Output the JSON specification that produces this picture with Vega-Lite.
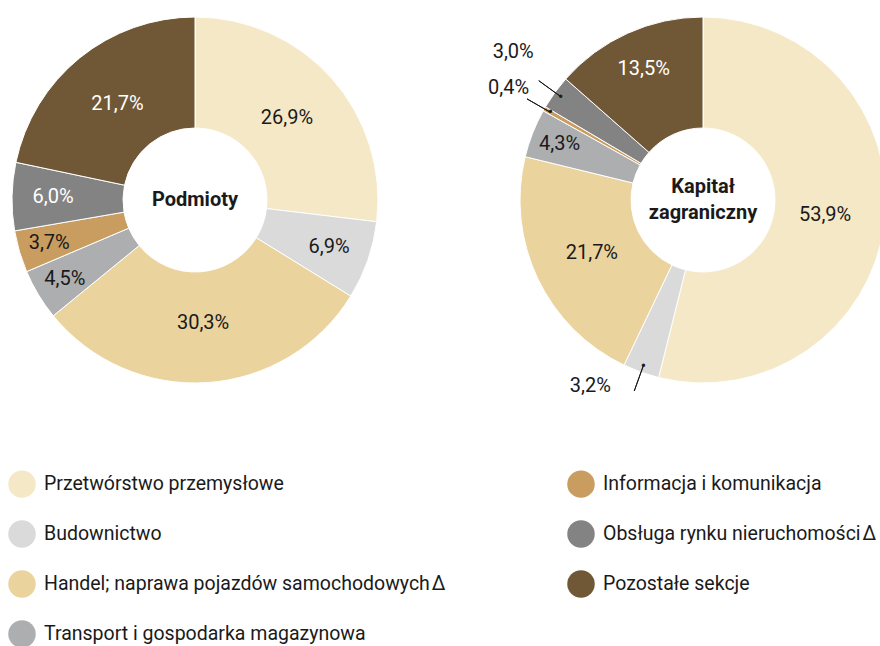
{
  "$schema": "https://vega.github.io/schema/vega-lite/v6.json",
  "width": 880,
  "height": 400,
  "autosize": {"type": "none"},
  "padding": {"left": 0, "top": 0, "right": 0, "bottom": 246},
  "background": "white",
  "config": {"view": {"stroke": null}, "font": "Roboto"},
  "data": {
    "values": [
      {"chart": "Podmioty", "rank": 1, "sector": "Przetwórstwo przemysłowe", "value": 26.9, "label": "26,9%"},
      {"chart": "Podmioty", "rank": 2, "sector": "Budownictwo", "value": 6.9, "label": "6,9%"},
      {"chart": "Podmioty", "rank": 3, "sector": "Handel; naprawa pojazdów samochodowych\u200aΔ", "value": 30.3, "label": "30,3%"},
      {"chart": "Podmioty", "rank": 4, "sector": "Transport i gospodarka magazynowa", "value": 4.5, "label": "4,5%"},
      {"chart": "Podmioty", "rank": 5, "sector": "Informacja i komunikacja", "value": 3.7, "label": "3,7%"},
      {"chart": "Podmioty", "rank": 6, "sector": "Obsługa rynku nieruchomości\u200aΔ", "value": 6.0, "label": "6,0%"},
      {"chart": "Podmioty", "rank": 7, "sector": "Pozostałe sekcje", "value": 21.7, "label": "21,7%"},
      {"chart": "Kapitał zagraniczny", "rank": 1, "sector": "Przetwórstwo przemysłowe", "value": 53.9, "label": "53,9%"},
      {"chart": "Kapitał zagraniczny", "rank": 2, "sector": "Budownictwo", "value": 3.2, "label": "3,2%"},
      {"chart": "Kapitał zagraniczny", "rank": 3, "sector": "Handel; naprawa pojazdów samochodowych\u200aΔ", "value": 21.7, "label": "21,7%"},
      {"chart": "Kapitał zagraniczny", "rank": 4, "sector": "Transport i gospodarka magazynowa", "value": 4.3, "label": "4,3%"},
      {"chart": "Kapitał zagraniczny", "rank": 5, "sector": "Informacja i komunikacja", "value": 0.4, "label": "0,4%"},
      {"chart": "Kapitał zagraniczny", "rank": 6, "sector": "Obsługa rynku nieruchomości\u200aΔ", "value": 3.0, "label": "3,0%"},
      {"chart": "Kapitał zagraniczny", "rank": 7, "sector": "Pozostałe sekcje", "value": 13.5, "label": "13,5%"}
    ]
  },
  "encoding": {
    "x": {"field": "chart", "type": "nominal", "scale": {"type": "point", "domain": ["Podmioty", "Kapitał zagraniczny"], "range": [195, 703], "padding": 0}, "axis": null}
  },
  "layer": [
    {
      "transform": [{"filter": "datum.chart == 'Podmioty'"}],
      "encoding": {
        "theta": {"field": "value", "type": "quantitative", "stack": true},
        "order": {"field": "rank", "type": "quantitative"},
        "detail": {"field": "sector", "type": "nominal"}
      },
      "layer": [
        {
          "mark": {"type": "arc", "outerRadius": 183, "innerRadius": 72, "stroke": "#ffffff", "strokeWidth": 1},
          "encoding": {
            "color": {
              "field": "sector", "type": "nominal",
              "scale": {
                "domain": ["Przetwórstwo przemysłowe", "Budownictwo", "Handel; naprawa pojazdów samochodowych\u200aΔ", "Transport i gospodarka magazynowa", "Informacja i komunikacja", "Obsługa rynku nieruchomości\u200aΔ", "Pozostałe sekcje"],
                "range": ["#F5E8C7", "#D9DAD9", "#EBD39E", "#ADAEAF", "#C99C60", "#838383", "#705836"]
              },
              "legend": {
                "orient": "none", "legendX": 8, "legendY": 470, "columns": 2, "title": null,
                "symbolType": "circle", "symbolSize": 756, "symbolStrokeWidth": 0, "symbolOpacity": 1,
                "labelFont": "Roboto", "labelFontSize": 19.5, "labelColor": "#1a1a1a", "labelLimit": 700,
                "labelOffset": 8, "rowPadding": 22, "columnPadding": 121, "padding": 0
              }
            }
          }
        },
        {
          "mark": {"type": "text", "radius": 123, "fontSize": 20, "font": "Roboto"},
          "encoding": {
            "text": {"condition": {"test": "datum.value >= 20", "field": "label", "type": "nominal"}, "value": ""},
            "color": {"condition": {"test": "datum.sector == 'Pozostałe sekcje' || datum.rank == 6", "value": "#ffffff"}, "value": "#1a1a1a"}
          }
        },
        {
          "mark": {"type": "text", "radius": 142, "fontSize": 20, "font": "Roboto"},
          "encoding": {
            "text": {"condition": {"test": "datum.value >= 5 && datum.value < 20", "field": "label", "type": "nominal"}, "value": ""},
            "color": {"condition": {"test": "datum.sector == 'Pozostałe sekcje' || datum.rank == 6", "value": "#ffffff"}, "value": "#1a1a1a"}
          }
        },
        {
          "mark": {"type": "text", "radius": 152, "fontSize": 20, "font": "Roboto"},
          "encoding": {
            "text": {"condition": {"test": "datum.value >= 3.5 && datum.value < 5", "field": "label", "type": "nominal"}, "value": ""},
            "color": {"condition": {"test": "datum.sector == 'Pozostałe sekcje' || datum.rank == 6", "value": "#ffffff"}, "value": "#1a1a1a"}
          }
        }
      ]
    },
    {
      "transform": [{"filter": "datum.chart == 'Kapitał zagraniczny'"}],
      "encoding": {
        "theta": {"field": "value", "type": "quantitative", "stack": true},
        "order": {"field": "rank", "type": "quantitative"},
        "detail": {"field": "sector", "type": "nominal"}
      },
      "layer": [
        {
          "mark": {"type": "arc", "outerRadius": 183, "innerRadius": 72, "stroke": "#ffffff", "strokeWidth": 1},
          "encoding": {"color": {"field": "sector", "type": "nominal"}}
        },
        {
          "mark": {"type": "text", "radius": 123, "fontSize": 20, "font": "Roboto"},
          "encoding": {
            "text": {"condition": {"test": "datum.value >= 20", "field": "label", "type": "nominal"}, "value": ""},
            "color": {"condition": {"test": "datum.sector == 'Pozostałe sekcje' || datum.rank == 6", "value": "#ffffff"}, "value": "#1a1a1a"}
          }
        },
        {
          "mark": {"type": "text", "radius": 144, "fontSize": 20, "font": "Roboto"},
          "encoding": {
            "text": {"condition": {"test": "datum.value >= 5 && datum.value < 20", "field": "label", "type": "nominal"}, "value": ""},
            "color": {"condition": {"test": "datum.sector == 'Pozostałe sekcje' || datum.rank == 6", "value": "#ffffff"}, "value": "#1a1a1a"}
          }
        },
        {
          "mark": {"type": "text", "radius": 154, "fontSize": 20, "font": "Roboto"},
          "encoding": {
            "text": {"condition": {"test": "datum.value >= 3.5 && datum.value < 5", "field": "label", "type": "nominal"}, "value": ""},
            "color": {"value": "#1a1a1a"}
          }
        },
        {
          "mark": {"type": "arc", "outerRadius": 203, "innerRadius": 176, "padAngle": 1.2, "fillOpacity": 0, "stroke": "#1a1a1a", "strokeWidth": 1},
          "encoding": {
            "strokeOpacity": {"condition": {"test": "datum.value < 3.5", "value": 1}, "value": 0}
          }
        },
        {
          "mark": {"type": "text", "radius": 176, "fontSize": 16, "font": "Roboto", "color": "#1a1a1a"},
          "encoding": {
            "text": {"condition": {"test": "datum.value < 3.5", "value": "•"}, "value": ""}
          }
        },
        {
          "mark": {"type": "text", "radius": 200, "dx": -28, "dy": -30, "fontSize": 20, "font": "Roboto", "color": "#1a1a1a"},
          "encoding": {
            "text": {"condition": {"test": "datum.value < 3.5 && datum.rank == 6", "field": "label", "type": "nominal"}, "value": ""}
          }
        },
        {
          "mark": {"type": "text", "radius": 200, "dx": -21, "dy": -12, "fontSize": 20, "font": "Roboto", "color": "#1a1a1a"},
          "encoding": {
            "text": {"condition": {"test": "datum.value < 3.5 && datum.rank == 5", "field": "label", "type": "nominal"}, "value": ""}
          }
        },
        {
          "mark": {"type": "text", "radius": 200, "dx": -45, "dy": -2, "fontSize": 20, "font": "Roboto", "color": "#1a1a1a"},
          "encoding": {
            "text": {"condition": {"test": "datum.value < 3.5 && datum.rank == 2", "field": "label", "type": "nominal"}, "value": ""}
          }
        }
      ]
    },
    {
      "transform": [{"filter": "datum.chart == 'Podmioty' && datum.rank == 1"}],
      "mark": {"type": "text", "fontSize": 20, "fontWeight": "bold", "font": "Roboto", "color": "#1a1a1a"},
      "encoding": {"text": {"value": "Podmioty"}}
    },
    {
      "transform": [{"filter": "datum.chart == 'Kapitał zagraniczny' && datum.rank == 1"}],
      "mark": {"type": "text", "fontSize": 20, "fontWeight": "bold", "font": "Roboto", "color": "#1a1a1a", "lineHeight": 26, "dy": -13},
      "encoding": {"text": {"value": ["Kapitał", "zagraniczny"]}}
    }
  ]
}
